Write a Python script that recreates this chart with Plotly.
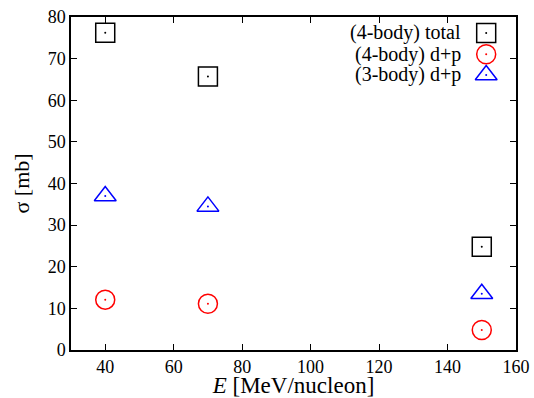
import plotly.graph_objects as go

energy = [40, 70, 150]
total_4body = [76.2, 65.7, 24.8]
dp_4body = [12.1, 11.1, 4.8]
dp_3body = [37.0, 34.5, 13.5]

series_names = ["(4-body) total", "(4-body) d+p", "(3-body) d+p"]
series_values = [total_4body, dp_4body, dp_3body]
symbols = ["square-open", "circle-open", "triangle-up-open"]
colors = ["black", "red", "blue"]

x_ticks = [40, 60, 80, 100, 120, 140, 160]
y_ticks = [0, 10, 20, 30, 40, 50, 60, 70, 80]

FONT = "Liberation Serif, Times New Roman, serif"
fig = go.Figure()

for name, vals, sym, col in zip(series_names, series_values, symbols, colors):
    fig.add_trace(go.Scatter(x=energy, y=vals, mode="markers", name=name, showlegend=False,
                             marker=dict(symbol=sym, size=19, color=col, line=dict(width=1.5, color=col))))
    fig.add_trace(go.Scatter(x=energy, y=vals, mode="markers", showlegend=False, hoverinfo="skip",
                             marker=dict(symbol="circle", size=2, color=col)))

# manual legend (text right-aligned, symbol to the right)
leg_y = [0.952, 0.888, 0.826]
for name, sym, col, ly in zip(series_names, symbols, colors, leg_y):
    fig.add_trace(go.Scatter(x=[0.933], y=[ly], xaxis="x2", yaxis="y2", mode="markers", showlegend=False,
                             hoverinfo="skip",
                             marker=dict(symbol=sym, size=19, color=col, line=dict(width=1.5, color=col))))
    fig.add_trace(go.Scatter(x=[0.933], y=[ly], xaxis="x2", yaxis="y2", mode="markers", showlegend=False,
                             hoverinfo="skip", marker=dict(symbol="circle", size=2, color=col)))
    fig.add_annotation(x=0.881, y=ly, xref="x2", yref="y2", text=name, showarrow=False,
                       xanchor="right", yanchor="middle", font=dict(family=FONT, size=20, color="black"))

axis_common = dict(showline=True, linecolor="black", linewidth=1.5, mirror="ticks", ticks="inside",
                   ticklen=6, tickwidth=1, tickcolor="black", showgrid=False, zeroline=False,
                   automargin=False,
                   tickfont=dict(family=FONT, size=18, color="black"))

fig.update_layout(
    width=534, height=398,
    margin=dict(l=71, r=18, t=17, b=48),
    font=dict(family=FONT, color="black"),
    plot_bgcolor="white", paper_bgcolor="white",
    xaxis=dict(range=[30, 160], tickvals=x_ticks, ticktext=[str(v) for v in x_ticks],
               title=dict(text="<i>E</i> [MeV/nucleon]", font=dict(family=FONT, size=23, color="black"), standoff=2),
               **axis_common),
    yaxis=dict(range=[0, 80], tickvals=y_ticks, ticktext=[str(v) for v in y_ticks],
               title=dict(text="σ [mb]", font=dict(family=FONT, size=22, color="black"), standoff=12),
               **axis_common),
    xaxis2=dict(overlaying="x", range=[0, 1], visible=False, fixedrange=True, automargin=False),
    yaxis2=dict(overlaying="y", range=[0, 1], visible=False, fixedrange=True, automargin=False),
)

fig.write_html("out.html")
